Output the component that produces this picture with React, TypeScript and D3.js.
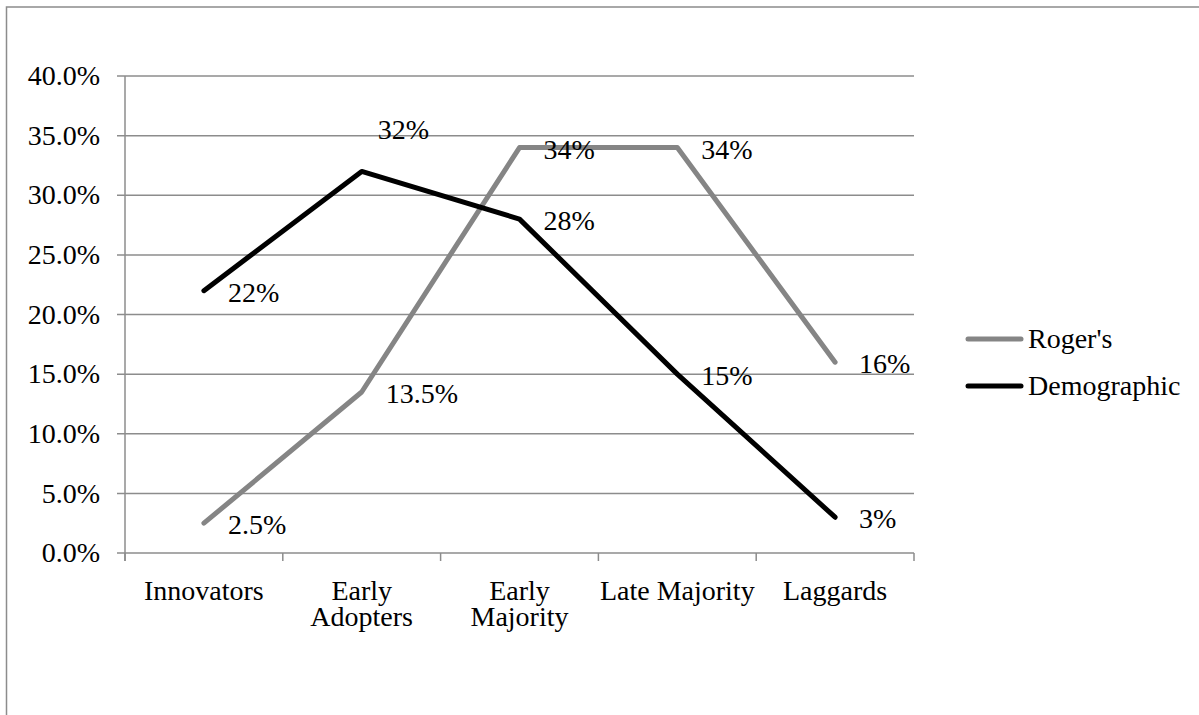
import React from 'react';
import * as d3 from 'd3';

// chart data
const categories = ['Innovators', 'Early Adopters', 'Early Majority', 'Late Majority', 'Laggards'];
const categoryLines = [['Innovators'], ['Early', 'Adopters'], ['Early', 'Majority'], ['Late Majority'], ['Laggards']];
const rogers = [0.025, 0.135, 0.34, 0.34, 0.16];
const demographic = [0.22, 0.32, 0.28, 0.15, 0.03];
const rogersLabels = ['2.5%', '13.5%', '34%', '34%', '16%'];
const demographicLabels = ['22%', '32%', '28%', '15%', '3%'];
const yTicks = [0, 0.05, 0.1, 0.15, 0.2, 0.25, 0.3, 0.35, 0.4];

const FONT = '"Liberation Serif", serif';
const GRID = '#8c8c8c';

const App = () => {
  const width = 1199;
  const height = 715;
  const left = 125;
  const right = 914;
  const top = 76;
  const bottom = 553;

  const x = d3.scaleBand().domain(categories).range([left, right]);
  const y = d3.scaleLinear().domain([0, 0.4]).range([bottom, top]);
  const cx = (c: string) => (x(c) as number) + x.bandwidth() / 2;

  const line = d3.line<number>()
    .x((_, i) => cx(categories[i]))
    .y(d => y(d));

  const series = [
    { name: "Roger's", values: rogers, labels: rogersLabels, color: '#858585' },
    { name: 'Demographic', values: demographic, labels: demographicLabels, color: '#000000' },
  ];

  const fmt = d3.format('.1%');

  return (
    <svg width={width} height={height} style={{ position: 'absolute', left: 0, top: 0, background: '#fff' }}
      fontFamily={FONT} fontSize={28}>
      <rect x={6.5} y={7} width={1300} height={800} fill="none" stroke={GRID} strokeWidth={1.5} />

      {/* gridlines + y labels */}
      {yTicks.map(t => (
        <g key={t}>
          <line x1={left - 8} x2={right} y1={y(t)} y2={y(t)} stroke={GRID} strokeWidth={1.5} />
          <text x={100} y={y(t)} dy="0.33em" textAnchor="end">{fmt(t)}</text>
        </g>
      ))}
      <line x1={left} x2={left} y1={top} y2={bottom + 8} stroke={GRID} strokeWidth={1.5} />

      {/* x ticks */}
      {categories.concat(['__end']).map((c, i) => {
        const xx = i < categories.length ? (x(c) as number) : right;
        return <line key={c} x1={xx} x2={xx} y1={bottom} y2={bottom + 8} stroke={GRID} strokeWidth={1.5} />;
      })}
      {categories.map((c, i) => (
        <g key={c}>
          {categoryLines[i].map((l, j) => (
            <text key={j} x={cx(c)} y={600 + j * 26} textAnchor="middle">{l}</text>
          ))}
        </g>
      ))}

      {/* lines */}
      {series.map(s => (
        <path key={s.name} d={line(s.values) as string} fill="none" stroke={s.color} strokeWidth={5}
          strokeLinejoin="round" strokeLinecap="round" />
      ))}

      {/* data labels */}
      {series.map(s => s.values.map((v, i) => {
        const raised = s.name === 'Demographic' && i === 1;
        return (
          <text key={s.name + i} x={cx(categories[i]) + (raised ? 16 : 24)} y={y(v) + (raised ? -42 : 2)} dy="0.33em">
            {s.labels[i]}
          </text>
        );
      }))}

      {/* legend */}
      {series.map((s, i) => (
        <g key={s.name} transform={`translate(967,${339 + i * 47})`}>
          <line x1={1} x2={54} y1={0} y2={0} stroke={s.color} strokeWidth={5} strokeLinecap="round" />
          <text x={61} y={0} dy="0.33em">{s.name}</text>
        </g>
      ))}
    </svg>
  );
};

export default App;
